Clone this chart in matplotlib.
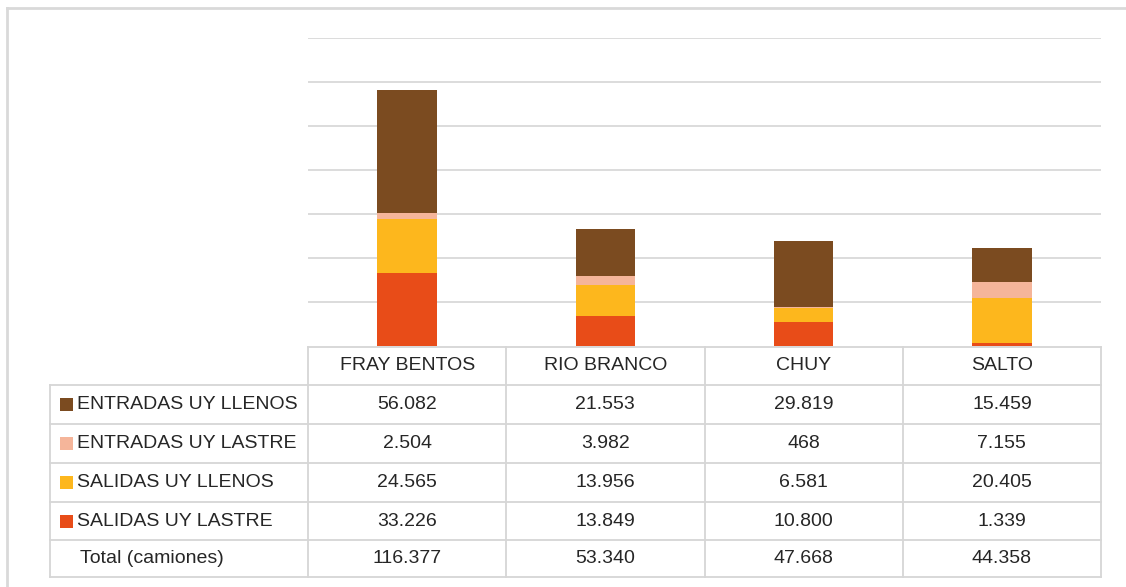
import matplotlib
matplotlib.use("Agg")
import matplotlib.pyplot as plt
import numpy as np

categories = ["FRAY BENTOS", "RIO BRANCO", "CHUY", "SALTO"]
series_names = ["ENTRADAS UY LLENOS", "ENTRADAS UY LASTRE", "SALIDAS UY LLENOS", "SALIDAS UY LASTRE"]
entradas_llenos = [56082, 21553, 29819, 15459]
entradas_lastre = [2504, 3982, 468, 7155]
salidas_llenos = [24565, 13956, 6581, 20405]
salidas_lastre = [33226, 13849, 10800, 1339]
totals = [116377, 53340, 47668, 44358]
total_label = "Total (camiones)"

colors = {
    "ENTRADAS UY LLENOS": "#7B4B20",
    "ENTRADAS UY LASTRE": "#F5B59A",
    "SALIDAS UY LLENOS": "#FDB71D",
    "SALIDAS UY LASTRE": "#E84C18",
}

def fmt(v):
    return f"{v:,}".replace(",", ".")

plt.rcParams['font.family'] = ['Liberation Sans', 'DejaVu Sans']

W, H = 1126, 587
fig = plt.figure(figsize=(W / 100, H / 100), dpi=100)

# pixel layout
px_left, px_right = 308, 1101
px_top, px_base = 38, 346

ax = fig.add_axes([px_left / W, (H - px_base) / H, (px_right - px_left) / W, (px_base - px_top) / H])
x = np.arange(len(categories))
bottom = np.zeros(len(categories))
stack_order = [("SALIDAS UY LASTRE", salidas_lastre), ("SALIDAS UY LLENOS", salidas_llenos),
               ("ENTRADAS UY LASTRE", entradas_lastre), ("ENTRADAS UY LLENOS", entradas_llenos)]
for name, vals in stack_order:
    ax.bar(x, vals, width=0.30, bottom=bottom, color=colors[name], zorder=3, linewidth=0)
    bottom += np.array(vals)
ax.set_xlim(-0.5, len(categories) - 0.5)
ax.set_ylim(0, 140000)
ax.set_yticks(np.arange(20000, 140001, 20000))
ax.yaxis.grid(True, color="#d9d9d9", linewidth=1.3, zorder=0)
ax.set_xticks([])
ax.tick_params(left=False, labelleft=False)
for s in ax.spines.values():
    s.set_visible(False)

# overlay in pixel coordinates
ov = fig.add_axes([0, 0, 1, 1], zorder=-1)
ov.set_xlim(0, W)
ov.set_ylim(H, 0)
ov.axis("off")

gc = "#d6d6d6"
# outer frame
ov.plot([7, 7], [8, H], color="#d9d9d9", lw=2)
ov.plot([7, W], [8, 8], color="#d9d9d9", lw=2)

row_lines = [347, 385, 424, 463, 502, 540, 577]
label_left = 50
col_w = (px_right - px_left) / len(categories)
col_lines = [px_left + i * col_w for i in range(len(categories) + 1)]

# horizontal lines
ov.plot([px_left, px_right], [row_lines[0], row_lines[0]], color=gc, lw=1.3)
for y in row_lines[1:]:
    ov.plot([label_left, px_right], [y, y], color=gc, lw=1.3)
# vertical lines
ov.plot([label_left, label_left], [row_lines[1], row_lines[-1]], color=gc, lw=1.3)
for xl in col_lines:
    ov.plot([xl, xl], [row_lines[0], row_lines[-1]], color=gc, lw=1.3)

fs = 14
tc = "#262626"
# header
for i, c in enumerate(categories):
    cx = px_left + (i + 0.5) * col_w
    ov.text(cx, (row_lines[0] + row_lines[1]) / 2, c, ha="center", va="center", fontsize=fs, color=tc)

rows = [("ENTRADAS UY LLENOS", entradas_llenos), ("ENTRADAS UY LASTRE", entradas_lastre),
        ("SALIDAS UY LLENOS", salidas_llenos), ("SALIDAS UY LASTRE", salidas_lastre)]
for r, (name, vals) in enumerate(rows):
    yc = (row_lines[r + 1] + row_lines[r + 2]) / 2
    ov.add_patch(plt.Rectangle((60, yc - 6.5), 13, 13, color=colors[name], lw=0))
    ov.text(77, yc, name, ha="left", va="center", fontsize=fs, color=tc)
    for i, v in enumerate(vals):
        cx = px_left + (i + 0.5) * col_w
        ov.text(cx, yc, fmt(v), ha="center", va="center", fontsize=fs, color=tc)

yc = (row_lines[5] + row_lines[6]) / 2
ov.text(80, yc, total_label, ha="left", va="center", fontsize=fs, color=tc)
for i, v in enumerate(totals):
    cx = px_left + (i + 0.5) * col_w
    ov.text(cx, yc, fmt(v), ha="center", va="center", fontsize=fs, color=tc)

fig.savefig("out.png", dpi=100, facecolor="white")
